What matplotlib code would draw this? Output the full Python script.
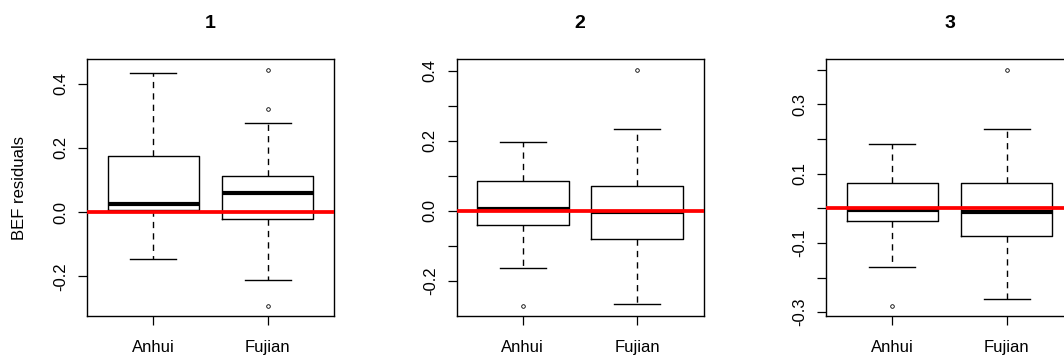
import matplotlib
matplotlib.use('Agg')
import matplotlib.pyplot as plt

plt.rcParams['font.family'] = ['Liberation Sans', 'DejaVu Sans']

regions = ['Anhui', 'Fujian']
panel_titles = ['1', '2', '3']

# five-number summaries per panel: [lower whisker, q1, median, q3, upper whisker]
anhui_stats = [
    [-0.147, 0.006, 0.024, 0.176, 0.434],
    [-0.165, -0.042, 0.005, 0.084, 0.197],
    [-0.169, -0.038, -0.004, 0.072, 0.187],
]
fujian_stats = [
    [-0.211, -0.021, 0.059, 0.111, 0.278],
    [-0.268, -0.080, -0.004, 0.071, 0.232],
    [-0.263, -0.079, -0.011, 0.072, 0.228],
]
anhui_outliers = [[], [-0.273], [-0.282]]
fujian_outliers = [[0.444, 0.321, -0.292], [0.402], [0.400]]

y_limits = [(-0.324, 0.477), (-0.301, 0.433), (-0.311, 0.431)]
y_ticks = [
    [-0.2, 0.0, 0.2, 0.4],
    [-0.2, -0.1, 0.0, 0.1, 0.2, 0.3, 0.4],
    [-0.3, -0.2, -0.1, 0.0, 0.1, 0.2, 0.3, 0.4],
]
y_tick_labels = [
    ['-0.2', '0.0', '0.2', '0.4'],
    ['-0.2', '', '0.0', '', '0.2', '', '0.4'],
    ['-0.3', '', '-0.1', '', '0.1', '', '0.3', ''],
]

W, H = 1064, 357
fig = plt.figure(figsize=(W / 100, H / 100), dpi=100)

# panel frames in pixels (the third one runs off the right edge like the original)
lefts = [87, 456.5, 826]
ax_w, ax_top, ax_bottom = 247, 59, 316

for i in range(3):
    ax = fig.add_axes([lefts[i] / W, 1 - ax_bottom / H, ax_w / W, (ax_bottom - ax_top) / H])
    stats = []
    for name, s, out in [(regions[0], anhui_stats[i], anhui_outliers[i]),
                         (regions[1], fujian_stats[i], fujian_outliers[i])]:
        stats.append(dict(whislo=s[0], q1=s[1], med=s[2], q3=s[3], whishi=s[4],
                          fliers=out, label=name))
    ax.bxp(stats, positions=[1, 2], widths=0.8, capwidths=0.4, showfliers=True,
           boxprops=dict(color='black', linewidth=1.0),
           medianprops=dict(color='black', linewidth=3, solid_capstyle='butt'),
           whiskerprops=dict(color='black', linewidth=1.0, linestyle=(0, (4.5, 3.7))),
           capprops=dict(color='black', linewidth=1.0),
           flierprops=dict(marker='o', markersize=2.6, markerfacecolor='none',
                           markeredgecolor='black', markeredgewidth=0.6))
    ax.axhline(0, color='red', linewidth=2.7, zorder=5)

    ax.set_xlim(0.42, 2.58)
    ax.set_ylim(*y_limits[i])
    ax.set_yticks(y_ticks[i])
    ax.set_yticklabels(y_tick_labels[i], rotation=90, va='center')
    ax.set_xticks([1, 2])
    ax.set_xticklabels(regions)
    ax.tick_params(axis='both', direction='out', length=6.5, width=0.9, labelsize=12)
    ax.tick_params(axis='y', pad=7)
    ax.tick_params(axis='x', pad=10.5)
    for sp in ax.spines.values():
        sp.set_linewidth(1.0)
    ax.set_title(panel_titles[i], fontweight='bold', fontsize=14, pad=22)

fig.text(20 / W, 1 - 187.5 / H, 'BEF residuals', rotation=90, va='center', ha='center', fontsize=12)

fig.savefig('out.png', dpi=100)
